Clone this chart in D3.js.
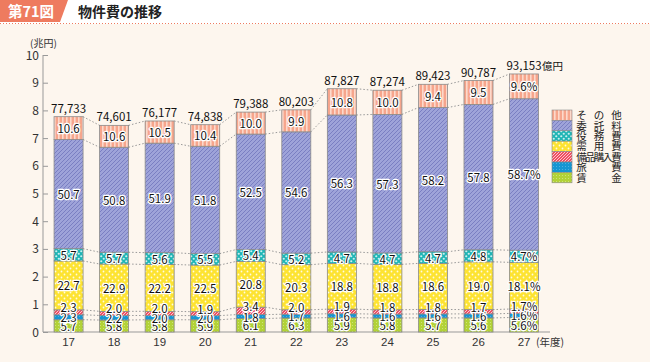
<!DOCTYPE html>
<html>
<head>
<meta charset="utf-8">
<script src="https://cdn.jsdelivr.net/npm/d3@7"></script>
<style>
  body { margin: 0; background: #fdf6ee; }
  svg { display: block; font-family: "Noto Sans CJK JP", "Noto Sans", sans-serif; }
</style>
</head>
<body>
<svg id="chart" width="650" height="362"></svg>
<script>
// 年度
const years = ['17', '18', '19', '20', '21', '22', '23', '24', '25', '26', '27']
// 物件費 合計（億円）
const totals = [77733, 74601, 76177, 74838, 79388, 80203, 87827, 87274, 89423, 90787, 93153]
// 構成比（%） 下から順
const chingin = [5.7, 5.8, 5.8, 5.9, 6.1, 6.3, 5.9, 5.8, 5.7, 5.6, 5.6]
const ryohi = [2.3, 2.2, 2.0, 2.0, 1.8, 1.7, 1.6, 1.6, 1.6, 1.6, 1.6]
const bihin = [2.3, 2.0, 2.0, 1.9, 3.4, 2.0, 1.9, 1.8, 1.8, 1.7, 1.7]
const juyo = [22.7, 22.9, 22.2, 22.5, 20.8, 20.3, 18.8, 18.8, 18.6, 19.0, 18.1]
const ekimu = [5.7, 5.7, 5.6, 5.5, 5.4, 5.2, 4.7, 4.7, 4.7, 4.8, 4.7]
const itaku = [50.7, 50.8, 51.9, 51.8, 52.5, 54.6, 56.3, 57.3, 58.2, 57.8, 58.7]
const sonota = [10.6, 10.6, 10.5, 10.4, 10.0, 9.9, 10.8, 10.0, 9.4, 9.5, 9.6]
const yTicks = [0, 1, 2, 3, 4, 5, 6, 7, 8, 9, 10]

const series = [
  { name: '賃金', legend: ['賃', '金'], vals: chingin, fill: 'url(#pGreen)' },
  { name: '旅費', legend: ['旅', '費'], vals: ryohi, fill: 'url(#pBlue)' },
  { name: '備品購入費', legend: ['備', '品', '購', '入', '費'], vals: bihin, fill: 'url(#pRed)' },
  { name: '需用費', legend: ['需', '用', '費'], vals: juyo, fill: 'url(#pYellow)' },
  { name: '役務費', legend: ['役', '務', '費'], vals: ekimu, fill: 'url(#pTeal)' },
  { name: '委託料', legend: ['委', '託', '料'], vals: itaku, fill: 'url(#pPurple)' },
  { name: 'その他', legend: ['そ', 'の', '他'], vals: sonota, fill: 'url(#pSalmon)' }
]

const svg = d3.select('#chart')

// ---- patterns
const defs = svg.append('defs')
function pat(id, w, h, bg, draw) {
  const p = defs.append('pattern').attr('id', id).attr('patternUnits', 'userSpaceOnUse')
    .attr('width', w).attr('height', h)
  p.append('rect').attr('width', w).attr('height', h).attr('fill', bg)
  draw(p)
}
pat('pSalmon', 4, 4, '#f6a58c', p => {
  p.append('rect').attr('x', 2).attr('width', 1.6).attr('height', 4).attr('fill', '#fcd9cb')
})
pat('pPurple', 4, 4, '#9ea3d9', p => {
  p.append('path').attr('d', 'M-1,1 L1,-1 M0,4 L4,0 M3,5 L5,3').attr('stroke', '#7a7fc2').attr('stroke-width', 1)
})
pat('pTeal', 5, 5, '#1fb5b5', p => {
  p.append('circle').attr('cx', 1.25).attr('cy', 1.25).attr('r', 1.1).attr('fill', '#c8efef')
  p.append('circle').attr('cx', 3.75).attr('cy', 3.75).attr('r', 1.1).attr('fill', '#c8efef')
})
pat('pYellow', 6, 6, '#fde331', p => {
  p.append('circle').attr('cx', 1.5).attr('cy', 1.5).attr('r', 0.9).attr('fill', '#fffbe0')
  p.append('circle').attr('cx', 4.5).attr('cy', 4.5).attr('r', 0.9).attr('fill', '#fffbe0')
})
pat('pRed', 3, 3, '#ee4e63', p => {
  p.append('path').attr('d', 'M-1,1 L1,-1 M0,3 L3,0 M2,4 L4,2').attr('stroke', '#ffd4da').attr('stroke-width', 0.9)
})
pat('pBlue', 3, 3, '#1596d3', p => {
  p.append('circle').attr('cx', 1.5).attr('cy', 1.5).attr('r', 0.5).attr('fill', '#5fb8e4')
})
pat('pGreen', 3, 3, '#b2d237', p => {
  p.append('circle').attr('cx', 1.5).attr('cy', 1.5).attr('r', 0.5).attr('fill', '#d7e88f')
})

// ---- header
svg.append('rect').attr('width', 650).attr('height', 24).attr('fill', '#fff')
svg.append('path').attr('d', 'M0,0 L68,0 L60,22 L0,22 Z').attr('fill', '#ee7b5f')
svg.append('text').attr('x', 8).attr('y', 17).attr('fill', '#fff')
  .attr('font-size', 14.5).attr('font-weight', 'bold').text('第71図')
svg.append('text').attr('x', 78).attr('y', 17).attr('fill', '#222')
  .attr('font-size', 14).attr('font-weight', 'bold').text('物件費の推移')
svg.append('line').attr('x1', 0).attr('x2', 650).attr('y1', 23.5).attr('y2', 23.5)
  .attr('stroke', '#ee7b5f').attr('stroke-width', 1).attr('stroke-dasharray', '1,2')

// ---- scales
const x = d3.scaleBand().domain(years).range([42.3, 550.3]).paddingInner(0.363).paddingOuter(0.258)
const y = d3.scaleLinear().domain([0, 10]).range([332, 55])
const bw = x.bandwidth()

// stacked values in 兆円
const stacked = years.map((yr, i) => {
  let acc = 0
  const t = totals[i] / 10000
  return series.map(s => {
    const v = t * s.vals[i] / 100
    const seg = { y0: acc, y1: acc + v, pct: s.vals[i], s, i, yr }
    acc += v
    return seg
  })
})

// ---- axes
const gy = svg.append('g').attr('transform', 'translate(43,0)')
  .call(d3.axisRight(y).tickValues(yTicks).tickSize(5).tickFormat(''))
gy.select('.domain').attr('stroke', '#999').attr('d', `M0,${y(10)}V${y(0)}`)
gy.selectAll('.tick line').attr('stroke', '#999')
svg.append('g').selectAll('text').data(yTicks).join('text')
  .attr('x', 39).attr('y', d => y(d) + 4.5).attr('text-anchor', 'end')
  .attr('font-size', 12).attr('fill', '#333').text(d => d)
svg.append('text').attr('x', 30).attr('y', 47).attr('font-size', 10).attr('fill', '#333').text('(兆円)')

const gx = svg.append('g').attr('transform', 'translate(0,332)')
  .call(d3.axisBottom(x).tickSize(0).tickPadding(6))
gx.select('.domain').attr('stroke', '#999').attr('d', 'M43,0H550')
gx.selectAll('text').attr('font-size', 11.5).attr('fill', '#333').attr('font-family', null)
svg.append('text').attr('x', 536).attr('y', 346).attr('font-size', 10.5).attr('fill', '#333').text('(年度)')

// ---- dotted connectors
const conn = svg.append('g')
for (let i = 0; i < years.length - 1; i++) {
  for (let k = 0; k < series.length; k++) {
    conn.append('line')
      .attr('x1', x(years[i]) + bw).attr('x2', x(years[i + 1]))
      .attr('y1', y(stacked[i][k].y1)).attr('y2', y(stacked[i + 1][k].y1))
      .attr('stroke', '#999').attr('stroke-width', 1).attr('stroke-dasharray', '1.5,2')
  }
}

// ---- bars
const segs = stacked.flat()
svg.append('g').selectAll('rect').data(segs).join('rect')
  .attr('x', d => x(d.yr)).attr('width', bw)
  .attr('y', d => y(d.y1)).attr('height', d => y(d.y0) - y(d.y1))
  .attr('fill', d => d.s.fill).attr('stroke', '#8a8a8a').attr('stroke-width', 0.8)

// ---- labels
const labelOff = { '賃金': 1, '旅費': 1, '備品購入費': -4, '需用費': 1, '役務費': 1, '委託料': 1, 'その他': 1 }
svg.append('g').selectAll('text').data(segs).join('text')
  .attr('x', d => x(d.yr) + bw / 2)
  .attr('y', d => (y(d.y0) + y(d.y1)) / 2 + 4 + labelOff[d.s.name])
  .attr('text-anchor', 'middle').attr('font-size', 11.5).attr('fill', '#111')
  .attr('stroke', '#fff').attr('stroke-width', 2.5).attr('paint-order', 'stroke')
  .attr('stroke-linejoin', 'round')
  .text(d => d.pct.toFixed(1) + (d.yr === '27' ? '%' : ''))

// ---- totals
const fmt = d3.format(',')
const tl = svg.append('g')
years.forEach((yr, i) => {
  const t = tl.append('text').attr('x', x(yr) + bw / 2).attr('y', y(totals[i] / 10000) - 4)
    .attr('text-anchor', 'middle').attr('font-size', 11.5).attr('fill', '#111')
    .text(fmt(totals[i]))
  if (i === years.length - 1) {
    const w = t.node().getComputedTextLength()
    tl.append('text').attr('x', x(yr) + bw / 2 + w / 2 + 0.5).attr('y', y(totals[i] / 10000) - 4)
      .attr('font-size', 10.5).attr('fill', '#111').text('億円')
  }
})

// ---- legend: characters spread across a fixed width, one row per series
const legTop = 110, rowH = 10.4
const leg = svg.append('g')
series.slice().reverse().forEach((s, r) => {
  const yy = legTop + r * rowH
  leg.append('rect').attr('x', 552).attr('y', yy).attr('width', 20).attr('height', rowH)
    .attr('fill', s.fill).attr('stroke', '#8a8a8a').attr('stroke-width', 0.6)
  const n = s.legend.length
  const xs = s.legend.map((c, j) => 581.5 + j * (35 / (n - 1)))
  leg.append('text').attr('x', xs.join(' ')).attr('y', yy + rowH / 2 + 4)
    .attr('text-anchor', 'middle').attr('font-size', 10.5).attr('fill', '#222')
    .text(s.legend.join(''))
})
</script>
</body>
</html>
